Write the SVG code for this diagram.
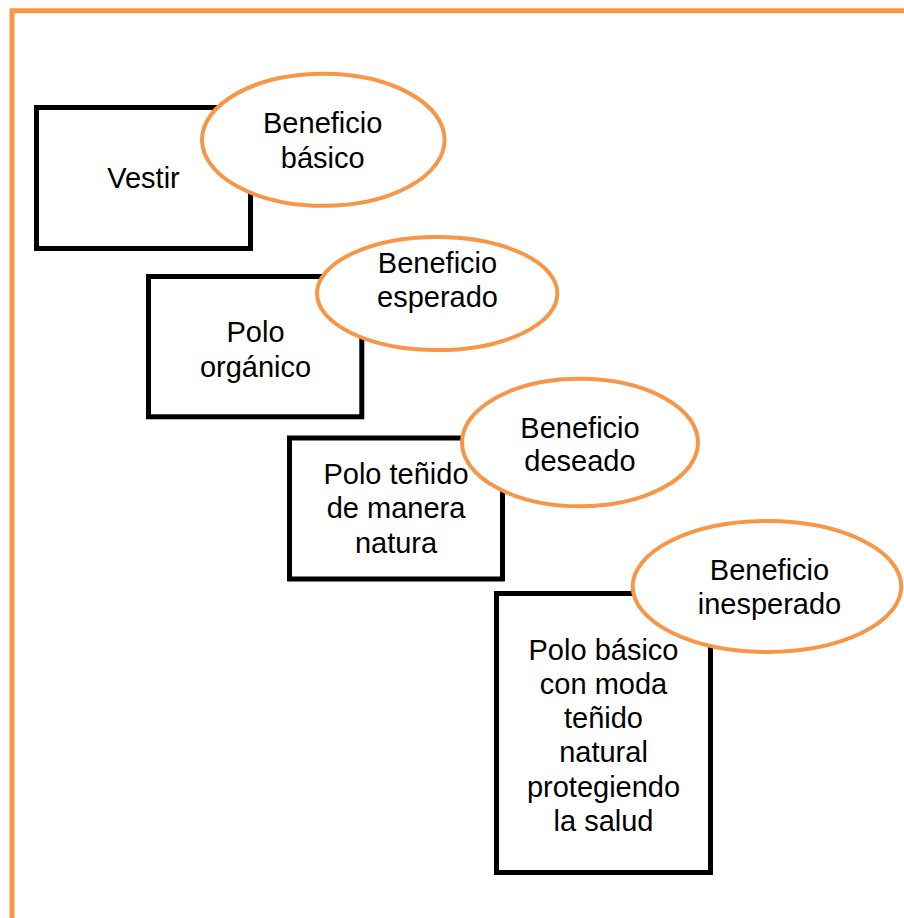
<svg xmlns="http://www.w3.org/2000/svg" width="904" height="918" viewBox="0 0 904 918">
<style>
.box{fill:#fff;stroke:#000;stroke-width:5}
.oval{fill:#fff;stroke:#F79646;stroke-width:4}
.frame{fill:none;stroke:#F79646;stroke-width:5}
text{font-family:"Liberation Sans",Arial,sans-serif;font-size:29px;fill:#000;text-anchor:middle}
</style>
<rect width="904" height="918" fill="#fff"/>
<path class="frame" d="M12,918 V10.7 H904"/>
<g id="node-vestir">
<rect class="box" x="36.5" y="107.5" width="214" height="141"/>
<text x="143.5" y="188">Vestir</text>
</g>
<g id="node-beneficio-basico">
<ellipse class="oval" cx="323.3" cy="139.8" rx="121.3" ry="66"/>
<text x="322.7" y="133.3">Beneficio</text>
<text x="322.7" y="168.3">básico</text>
</g>
<g id="node-polo-organico">
<rect class="box" x="148.5" y="276.5" width="213.3" height="140.3"/>
<text x="255.5" y="341.7">Polo</text>
<text x="255.5" y="376.7">orgánico</text>
</g>
<g id="node-beneficio-esperado">
<ellipse class="oval" cx="437.2" cy="293.5" rx="120.2" ry="56.5"/>
<text x="437.5" y="273.3">Beneficio</text>
<text x="437.5" y="306.7">esperado</text>
</g>
<g id="node-polo-tenido">
<rect class="box" x="289.5" y="438" width="213" height="141"/>
<text x="396" y="484">Polo teñido</text>
<text x="396" y="518">de manera</text>
<text x="396" y="553">natura</text>
</g>
<g id="node-beneficio-deseado">
<ellipse class="oval" cx="580" cy="442.5" rx="118" ry="63.8"/>
<text x="580" y="438.3">Beneficio</text>
<text x="580" y="471">deseado</text>
</g>
<g id="node-polo-basico">
<rect class="box" x="496.5" y="593.5" width="214" height="279"/>
<text x="603.5" y="660">Polo básico</text>
<text x="603.5" y="694">con moda</text>
<text x="603.5" y="728.3">teñido</text>
<text x="603.5" y="762.3">natural</text>
<text x="603.5" y="796.7">protegiendo</text>
<text x="603.5" y="830.7">la salud</text>
</g>
<g id="node-beneficio-inesperado">
<ellipse class="oval" cx="767" cy="586.5" rx="134.3" ry="65.5"/>
<text x="769.5" y="580">Beneficio</text>
<text x="769.5" y="614.3">inesperado</text>
</g>
<g id="connectors"></g>
</svg>
